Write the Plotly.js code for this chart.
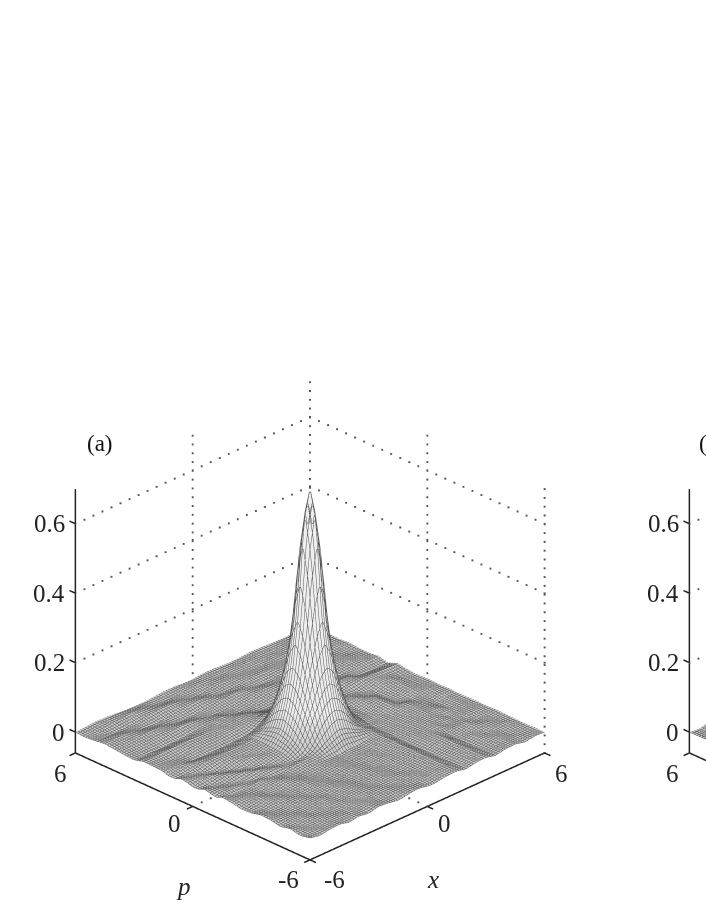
<!DOCTYPE html>
<html>
<head>
<meta charset="utf-8">
<script src="https://cdn.plot.ly/plotly-3.0.1.min.js"></script>
<style>
html, body { margin: 0; padding: 0; background: #fff; width: 706px; height: 913px; overflow: hidden; }
#plot { width: 1412px; height: 913px; }
</style>
</head>
<body>
<div id="plot"></div>
<script>
// grid is finer around the peak
const grid = [-6,-5.5,-5,-4.5,-4,-3.5,-3,-2.5,-2,-1.5,-1.2,-.9,-.6,-.3,0,.3,.6,.9,1.2,1.5,2,2.5,3,3.5,4,4.5,5,5.5,6];

// panel (a), values in thousandths, rows p=-6..6, columns x=-6..6
const zA = [
[3,-3,2,4,-3,2,-3,4,1,-4,-2,1,3,2,-2,-3,-1,2,3,3,-3,3,4,-3,3,4,-3,2,0],
[-3,1,-2,1,2,-1,0,2,-2,1,2,1,0,-1,-1,1,2,3,4,5,-4,2,5,-4,-1,3,1,-2,1],
[4,-2,1,2,-1,-2,2,-1,1,2,1,-1,-2,0,2,1,0,2,4,6,-5,2,6,-5,0,3,-2,1,-1],
[-3,1,3,-2,0,2,-2,1,3,-1,-2,0,2,1,-1,-2,1,3,5,6,-5,1,6,-5,2,-2,2,3,0],
[3,2,-1,-2,2,3,-2,1,3,-2,-1,1,2,0,-2,-1,1,3,5,7,-6,2,7,-5,-2,3,3,-2,1],
[5,-1,-2,1,3,-2,0,3,-1,-2,0,2,1,-1,-1,1,2,3,5,7,-6,2,6,-4,1,4,-3,-1,2],
[-2,-3,2,4,-2,-1,3,1,-3,-1,2,2,0,-2,0,1,1,3,5,7,-6,1,3,5,-4,-3,2,2,0],
[-4,1,5,-1,-3,2,3,-2,-2,1,2,1,-1,0,1,1,0,4,6,7,-5,-2,1,5,4,-5,-2,1,1],
[2,4,1,-3,2,5,-1,-4,1,3,1,0,-2,0,2,1,2,4,7,7,-4,-2,0,2,6,5,-5,-1,0],
[5,-2,-3,2,4,-2,-4,1,4,5,10,19,30,40,46,41,32,23,16,10,-4,-3,0,3,5,2,-5,-2,0],
[-3,3,3,-2,-4,2,5,-2,-3,3,16,45,75,95,105,96,76,46,24,11,-3,-3,-1,4,6,1,-3,1,1],
[1,3,-2,-4,2,5,-1,-4,1,18,46,90,135,180,195,180,135,90,47,20,-1,-4,-2,5,5,-2,-2,2,0],
[5,-2,-4,3,5,-2,-5,2,6,32,76,135,215,300,350,300,215,135,77,33,3,-3,0,6,-2,-5,1,3,-1],
[-3,-4,3,5,-2,-5,1,5,6,41,95,180,300,500,615,500,300,180,96,41,5,-3,1,6,-4,-3,3,1,1],
[-4,2,5,-2,-5,2,6,2,8,47,105,195,350,615,702,615,350,195,105,46,7,-2,4,6,-5,-2,3,-1,1],
[2,4,-1,-5,2,6,3,5,9,43,96,180,300,500,615,500,300,180,96,42,8,1,6,5,-5,0,4,-2,0],
[4,-1,-4,3,7,7,7,7,10,35,77,135,215,300,350,300,215,135,77,35,9,5,7,-1,-5,2,5,-2,-1],
[-3,-3,2,7,8,8,8,8,10,27,50,90,135,180,195,180,135,90,48,25,9,7,3,-3,-3,5,5,-3,1],
[-4,1,5,3,1,1,1,2,4,13,26,46,75,95,105,95,75,46,26,14,6,5,-1,-3,2,6,4,1,3],
[2,3,2,-5,-6,-6,-6,-5,-4,0,9,20,31,41,46,41,31,20,9,2,3,2,-2,3,7,8,8,7,6],
[4,1,-2,-1,2,3,3,3,5,7,9,11,13,13,10,6,4,2,0,-1,-3,-3,1,7,5,-4,-6,-6,-5],
[5,6,7,8,8,8,7,6,5,6,7,8,6,1,-3,-4,-3,-2,-1,0,2,4,6,-2,-5,-2,1,2,2],
[-3,-5,-5,-6,-5,-4,-1,3,6,7,2,-2,-5,-4,-3,-1,1,3,5,7,8,8,2,-4,-2,2,3,1,-2],
[-1,-1,1,2,5,6,8,7,1,-3,-5,-4,-3,-1,1,3,5,6,7,6,2,-3,-5,-1,3,4,1,-3,-1],
[2,4,6,8,8,4,-2,-5,-5,-2,0,2,5,6,7,7,5,1,-2,-4,-3,-1,3,5,3,-1,-3,-1,2],
[5,7,8,3,-3,-5,-3,0,3,7,8,6,2,-2,-3,-3,-2,-1,2,3,3,3,1,-3,-3,0,3,2,-1],
[1,-2,-4,-3,-1,3,6,8,7,2,-1,-3,-4,-2,0,2,3,3,2,1,-2,-3,-1,2,3,1,-2,-2,1],
[-2,-1,2,5,6,8,4,-1,-3,-3,-2,1,2,3,2,1,-1,-2,-1,1,2,2,-1,-2,-1,1,2,0,-1],
[0,2,4,3,1,-2,-3,-3,-1,2,2,2,0,-1,-1,1,2,2,1,-1,-2,0,2,1,-1,-2,-1,1,0]
];

// panel (b) is cut by the page edge, only its far left corner shows
const gridB = [-6,-5.5,-5,-4,-2,0,2,4,6];
const zB = [
[0,3,-2,2,-2,1,0,1,0],
[2,-3,4,-2,2,-1,1,-1,1],
[-2,5,-3,3,-1,3,-1,2,0],
[3,-4,5,-3,4,10,3,-2,1],
[-3,6,-4,5,20,60,15,2,-1],
[4,-5,6,-2,60,690,50,3,1],
[-2,4,-5,4,15,50,12,-2,0],
[3,-4,3,-3,2,4,-3,2,1],
[0,-3,4,-2,2,-1,1,-1,0]
];

const zTicks = [0, 0.2, 0.4, 0.6];
const zBottom = -0.06;
const zTop = 0.7;
const edge = 6;
const tickEnd = 6.3;

const W = 1412, H = 913;

function surfaceTrace(sceneName, xs, rows) {
    let contour = { show: true, start: -6, end: 6, size: 0.125, color: '#555', width: 2, highlight: false };
    return {
        type: 'surface', scene: sceneName, x: xs, y: xs,
        z: rows.map(r => r.map(v => v / 1000)),
        // the flat part reads grey in the scan, the peak nearly white
        cmin: -0.013, cmax: 0.702,
        colorscale: [[0, '#cccccc'], [0.04, '#cccccc'], [0.15, '#ececec'], [1, '#f0f0f0']],
        showscale: false, hoverinfo: 'skip',
        lighting: { ambient: 1, diffuse: 0, specular: 0, roughness: 1, fresnel: 0 },
        contours: { x: contour, y: contour, z: { show: false, highlight: false } }
    };
}

// segs is a list of [x,p,z] pairs, a null breaks the line
function lineTrace(sceneName, segs, color, width) {
    let xs = [], ys = [], zs = [];
    segs.forEach(s => {
        s.forEach(pt => { xs.push(pt[0]); ys.push(pt[1]); zs.push(pt[2]); });
        xs.push(null); ys.push(null); zs.push(null);
    });
    return {
        type: 'scatter3d', mode: 'lines', scene: sceneName, x: xs, y: ys, z: zs,
        line: { color: color, width: width }, hoverinfo: 'skip', showlegend: false
    };
}

// the dotted grid, the library's dash is too long so it is small markers
function dotTrace(sceneName) {
    let xs = [], ys = [], zs = [];
    function run(a, b, n) {
        for (let i = 0; i <= n; i++) {
            xs.push(a[0] + (b[0] - a[0]) * i / n);
            ys.push(a[1] + (b[1] - a[1]) * i / n);
            zs.push(a[2] + (b[2] - a[2]) * i / n);
        }
    }
    zTicks.slice(1).forEach(t => {
        run([-edge, edge, t], [edge, edge, t], 26);
        run([edge, edge, t], [edge, -edge, t], 26);
    });
    [[0, edge], [edge, edge], [edge, 0], [edge, -edge]].forEach(c => {
        run([c[0], c[1], zBottom], [c[0], c[1], zTop], 30);
    });
    run([0, -edge, zBottom], [0, edge, zBottom], 26);
    run([-edge, 0, zBottom], [edge, 0, zBottom], 26);
    return {
        type: 'scatter3d', mode: 'markers', scene: sceneName, x: xs, y: ys, z: zs,
        marker: { size: 1, color: '#555', symbol: 'square', line: { width: 0 } },
        hoverinfo: 'skip', showlegend: false
    };
}

function boxTraces(sceneName) {
    let axes = [
        [[-edge, edge, zBottom], [-edge, edge, zTop]],
        [[-edge, edge, zBottom], [-edge, -edge, zBottom]],
        [[-edge, -edge, zBottom], [edge, -edge, zBottom]]
    ];
    zTicks.forEach(t => axes.push([[-edge, edge, t], [-edge, tickEnd, t]]));
    [-edge, 0, edge].forEach(v => {
        axes.push([[v, -edge, zBottom], [v, -tickEnd, zBottom]]);
        axes.push([[-edge, v, zBottom], [-tickEnd, v, zBottom]]);
    });
    return [dotTrace(sceneName), lineTrace(sceneName, axes, '#222', 3)];
}

function tickAnn(x, y, z, text, dx, dy, style) {
    return {
        x: x, y: y, z: z, text: text, showarrow: false, xshift: dx, yshift: -dy,
        xanchor: 'center', yanchor: 'middle',
        font: { family: 'Liberation Serif', size: 25, color: '#222', style: style || 'normal' }
    };
}

function zLabels() {
    return zTicks.map(t => {
        let a = tickAnn(-edge, edge, t, String(t), -8, 0);
        a.xanchor = 'right';
        return a;
    });
}

function sceneLayout(domainX, annotations) {
    let hidden = { visible: false, range: [-6.4, 6.4], showspikes: false };
    return {
        domain: { x: domainX, y: [0, 584 / H] },
        bgcolor: 'rgba(0,0,0,0)',
        xaxis: hidden,
        yaxis: hidden,
        zaxis: { visible: false, range: [-0.07, 0.71], showspikes: false },
        aspectmode: 'manual',
        // in orthographic mode this sets the zoom, the eye distance does not
        aspectratio: { x: 1.212, y: 1.212, z: 1.042 },
        camera: {
            eye: { x: -1.207, y: -1.207, z: 0.874 },
            up: { x: 0, y: 0, z: 1 },
            center: { x: 0, y: 0, z: 0 },
            projection: { type: 'orthographic' }
        },
        annotations: annotations
    };
}

const annA = zLabels().concat([
    tickAnn(-edge, edge, zBottom, '6', -15, 21),
    tickAnn(-edge, 0, zBottom, '0', -18, 17),
    tickAnn(-edge, -edge, zBottom, '-6', -22, 20),
    tickAnn(-edge, -edge, zBottom, '-6', 24, 20),
    tickAnn(0, -edge, zBottom, '0', 17, 17),
    tickAnn(edge, -edge, zBottom, '6', 17, 21),
    tickAnn(-edge, 0, zBottom, 'p', -9, 80, 'italic'),
    tickAnn(0, -edge, zBottom, 'x', 6, 73, 'italic')
]);
const annB = zLabels().concat([
    tickAnn(-edge, edge, zBottom, '6', -17, 21)
]);

const traces = [surfaceTrace('scene', grid, zA)]
    .concat(boxTraces('scene'))
    .concat([surfaceTrace('scene2', gridB, zB)])
    .concat(boxTraces('scene2'));

const layout = {
    width: W, height: H, autosize: false,
    margin: { l: 0, r: 0, t: 0, b: 0 },
    paper_bgcolor: '#fff',
    showlegend: false,
    scene: sceneLayout([0, 620 / W], annA),
    scene2: sceneLayout([614 / W, 1234 / W], annB),
    annotations: [
        { xref: 'paper', yref: 'paper', x: 100 / W, y: 1 - 443 / H, text: '(a)', showarrow: false,
          xanchor: 'center', font: { family: 'Liberation Serif', size: 23, color: '#111' } },
        { xref: 'paper', yref: 'paper', x: 712 / W, y: 1 - 443 / H, text: '(b)', showarrow: false,
          xanchor: 'center', font: { family: 'Liberation Serif', size: 23, color: '#111' } }
    ]
};

Plotly.newPlot('plot', traces, layout, { displayModeBar: false, scrollZoom: false });
</script>
</body>
</html>
